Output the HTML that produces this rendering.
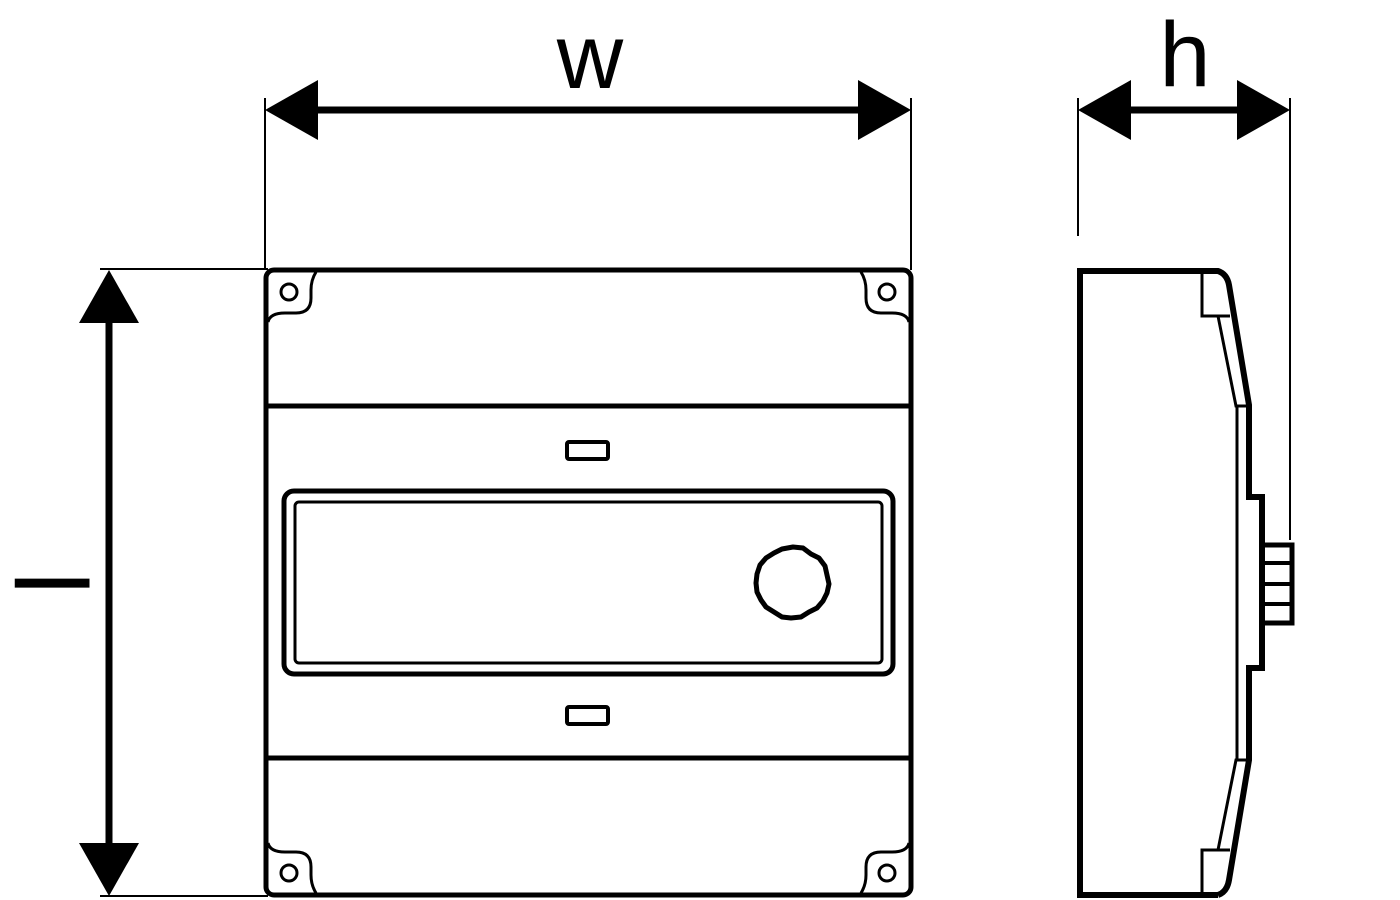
<!DOCTYPE html>
<html><head><meta charset="utf-8"><style>html,body{margin:0;padding:0;background:#fff}svg{display:block}</style></head>
<body>
<svg width="1400" height="900" viewBox="0 0 1400 900" xmlns="http://www.w3.org/2000/svg" font-family="Liberation Sans, sans-serif">
<g fill="none" stroke="#000">
<line x1="265" y1="98" x2="265" y2="270" stroke-width="2"/>
<line x1="911" y1="98" x2="911" y2="270" stroke-width="2"/>
<line x1="1078" y1="98" x2="1078" y2="236" stroke-width="2"/>
<line x1="1290" y1="98" x2="1290" y2="540" stroke-width="2"/>
<line x1="100" y1="269" x2="268" y2="269" stroke-width="2"/>
<line x1="100" y1="896" x2="268" y2="896" stroke-width="2"/>
<line x1="300" y1="110" x2="880" y2="110" stroke-width="7"/>
<line x1="1110" y1="110" x2="1260" y2="110" stroke-width="7"/>
<line x1="109" y1="300" x2="109" y2="865" stroke-width="7"/>
</g>
<g fill="#000">
<polygon points="265,110 318,80 318,140"/>
<polygon points="911,110 858,80 858,140"/>
<polygon points="1078,110 1131,80 1131,140"/>
<polygon points="1290,110 1237,80 1237,140"/>
<polygon points="109,270 79,323 139,323"/>
<polygon points="109,896 79,843 139,843"/>
</g>
<text x="590" y="88" font-size="92" text-anchor="middle">w</text>
<text x="1185" y="86" font-size="92" text-anchor="middle">h</text>
<text transform="translate(15,583) rotate(90)" x="0" y="0" font-size="103" text-anchor="middle">l</text>

<g fill="none" stroke="#000" stroke-width="5">
<rect x="266" y="270" width="645" height="625" rx="8"/>
<line x1="266" y1="406" x2="911" y2="406"/>
<line x1="266" y1="758" x2="911" y2="758"/>
<rect x="284" y="491" width="609" height="183" rx="10"/>
<rect x="567" y="442" width="41" height="17" rx="2" stroke-width="4"/>
<rect x="567" y="707" width="41" height="17" rx="2" stroke-width="4"/>
</g>
<rect x="295" y="502" width="587" height="161" rx="4" fill="none" stroke="#000" stroke-width="3"/>
<path d="M793,547 l10,1 l8,6 l8,4 l6,8 l2,9 l2,9 l-2,9 l-4,8 l-6,7 l-8,4 l-8,5 l-10,1 l-9,-1 l-8,-5 l-8,-5 l-5,-7 l-4,-8 l-1,-9 l1,-9 l3,-9 l6,-7 l8,-5 l8,-4 z" fill="none" stroke="#000" stroke-width="5" stroke-linejoin="round"/>
<g fill="none" stroke="#000" stroke-width="3">
<path d="M268,322 Q270,313 285,313 L296,313 Q311,313 311,298 L311,290 Q311,280 316,272"/>
<path d="M909,322 Q907,313 892,313 L881,313 Q866,313 866,298 L866,290 Q866,280 861,272"/>
<path d="M268,843 Q270,852 285,852 L296,852 Q311,852 311,867 L311,875 Q311,885 316,893"/>
<path d="M909,843 Q907,852 892,852 L881,852 Q866,852 866,867 L866,875 Q866,885 861,893"/>
<circle cx="289" cy="292" r="8"/>
<circle cx="887" cy="292" r="8"/>
<circle cx="289" cy="873" r="8"/>
<circle cx="887" cy="873" r="8"/>
</g>

<g fill="none" stroke="#000" stroke-linejoin="miter">
<path d="M1218,895 L1080,895 L1080,271 L1218,271 Q1227,274 1229,285 L1249,405 L1249,497 L1262,497 L1262,668 L1249,668 L1249,760 L1229,880 Q1227,892 1218,895" stroke-width="6"/>
<rect x="1262" y="545" width="30" height="78" stroke-width="5"/>
<line x1="1262" y1="563" x2="1290" y2="563" stroke-width="4"/>
<line x1="1262" y1="584" x2="1290" y2="584" stroke-width="4"/>
<line x1="1262" y1="604" x2="1290" y2="604" stroke-width="4"/>
<g stroke-width="3">
<path d="M1202,272 L1202,316 L1230,316"/>
<path d="M1218,316 L1236,406 L1248,406"/>
<line x1="1237" y1="406" x2="1237" y2="760"/>
<path d="M1202,894 L1202,850 L1230,850"/>
<path d="M1218,850 L1236,760 L1248,760"/>
</g>
</g>
</svg>
</body></html>
